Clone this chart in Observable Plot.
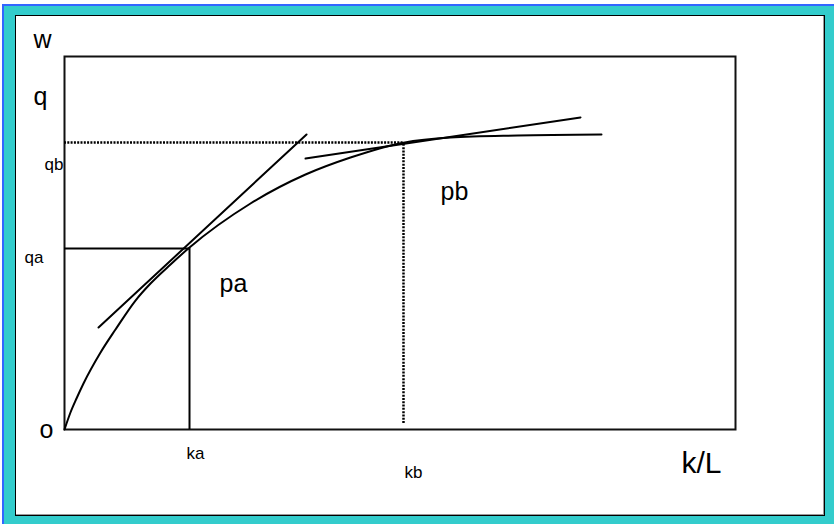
<!DOCTYPE html>
<html>
<head>
<meta charset="utf-8">
<script src="https://cdn.jsdelivr.net/npm/d3@7"></script>
<script src="https://cdn.jsdelivr.net/npm/@observablehq/plot@0.6"></script>
<style>
  body { margin: 0; background: white; }
  #wrap { position: relative; width: 834px; height: 524px; overflow: hidden; }
  #cyan { position: absolute; left: 2px; top: 4px; right: 0; bottom: 0; background: #33CCCC;
          border-left: 2px solid #3366FF; border-top: 2px solid #3366FF; }
  #inner { position: absolute; left: 15px; top: 15px; width: 810px; height: 501px; box-sizing: border-box;
           background: white; border: 1px solid #000; box-shadow: inset -1px -1px 0 #999; }
  #chart { position: absolute; left: 0; top: 0; }
</style>
</head>
<body>
<div id="wrap">
  <div id="cyan"></div>
  <div id="inner"></div>
  <div id="chart"></div>
</div>
<script>
// Production-function curve (k/L on x, output per worker on y)
const curveK = [0, 0.089, 0.179, 0.283, 0.537, 0.760, 1.058, 1.282, 1.580, 1.863, 2.772, 3.592, 4.262, 5.052, 5.753, 6.751, 8.003];
const curveQ = [0, 0.456, 0.831, 1.233, 2.064, 2.681, 3.458, 3.914, 4.424, 4.879, 6.059, 6.836, 7.292, 7.690, 7.828, 7.882, 7.909];

// Key points
const ka = 1.863, qa = 4.853;
const kb = 5.052, qb = 7.694;

// Tangent segments (end points)
const tangentAK = [0.507, 3.607];
const tangentAQ = [2.735, 7.909];
const tangentBK = [3.592, 7.690];
const tangentBQ = [7.265, 8.365];

// Labels
const axisLabelY = "w";
const axisLabelQ = "q";
const originLabel = "o";
const axisLabelX = "k/L";
const yTickLabels = ["qa", "qb"];
const xTickLabels = ["ka", "kb"];
const pointLabels = ["pa", "pb"];

const curve = curveK.map((k, i) => ({k, q: curveQ[i]}));
const tanA = tangentAK.map((k, i) => ({k, q: tangentAQ[i]}));
const tanB = tangentBK.map((k, i) => ({k, q: tangentBQ[i]}));

const FONT = "'Liberation Sans Narrow', 'Liberation Sans', Arial, sans-serif";
const big = {fontSize: 25, fontFamily: FONT, fill: "black", textAnchor: "middle", lineAnchor: "middle"};
const small = {fontSize: 17, fontFamily: FONT, fill: "black", lineAnchor: "middle"};

const plot = Plot.plot({
  width: 834,
  height: 524,
  marginLeft: 64,
  marginTop: 56,
  marginRight: 99,
  marginBottom: 95,
  x: {domain: [0, 10], axis: null},
  y: {domain: [0, 10], axis: null},
  style: {background: "transparent", overflow: "visible"},
  marks: [
    Plot.frame({stroke: "#111", strokeWidth: 2}),
    // box for point a
    Plot.ruleY([qa], {x1: 0, x2: ka, stroke: "black", strokeWidth: 2}),
    Plot.ruleX([ka], {y1: 0, y2: qa, stroke: "black", strokeWidth: 2}),
    // dotted guides for point b
    Plot.ruleY([qb], {x1: 0, x2: kb, stroke: "black", strokeWidth: 2.5, strokeDasharray: "2,1.3"}),
    Plot.ruleX([kb], {y1: 0.16, y2: qb, stroke: "black", strokeWidth: 2.5, strokeDasharray: "2,1.3"}),
    // tangents
    Plot.line(tanA, {x: "k", y: "q", stroke: "black", strokeWidth: 2}),
    Plot.line(tanB, {x: "k", y: "q", stroke: "black", strokeWidth: 2}),
    // curve
    Plot.line(curve, {x: "k", y: "q", curve: "monotone-x", stroke: "black", strokeWidth: 2}),
    // axis titles
    Plot.text([axisLabelY], {frameAnchor: "top-left", dx: -22, dy: -17, ...big}),
    Plot.text([axisLabelQ], {frameAnchor: "top-left", dx: -24, dy: 40, ...big}),
    Plot.text([originLabel], {frameAnchor: "bottom-left", dx: -18, dy: 0, ...big}),
    Plot.text([axisLabelX], {frameAnchor: "bottom-right", dx: -34, dy: 34, ...big, fontSize: 30}),
    // tick-like labels
    Plot.text([yTickLabels[0]], {x: 0, y: qa, dx: -21, dy: 9, textAnchor: "end", ...small}),
    Plot.text([yTickLabels[1]], {x: 0, y: qb, dx: -1, dy: 22, textAnchor: "end", ...small}),
    Plot.text([xTickLabels[0]], {x: ka, y: 0, dx: 6, dy: 24, textAnchor: "middle", ...small}),
    Plot.text([xTickLabels[1]], {x: kb, y: 0, dx: 10, dy: 43, textAnchor: "middle", ...small}),
    // point labels
    Plot.text([pointLabels[0]], {x: ka, y: qa, dx: 44, dy: 36, ...big}),
    Plot.text([pointLabels[1]], {x: kb, y: qb, dx: 51, dy: 49, ...big})
  ]
});
document.getElementById("chart").appendChild(plot);
</script>
</body>
</html>
